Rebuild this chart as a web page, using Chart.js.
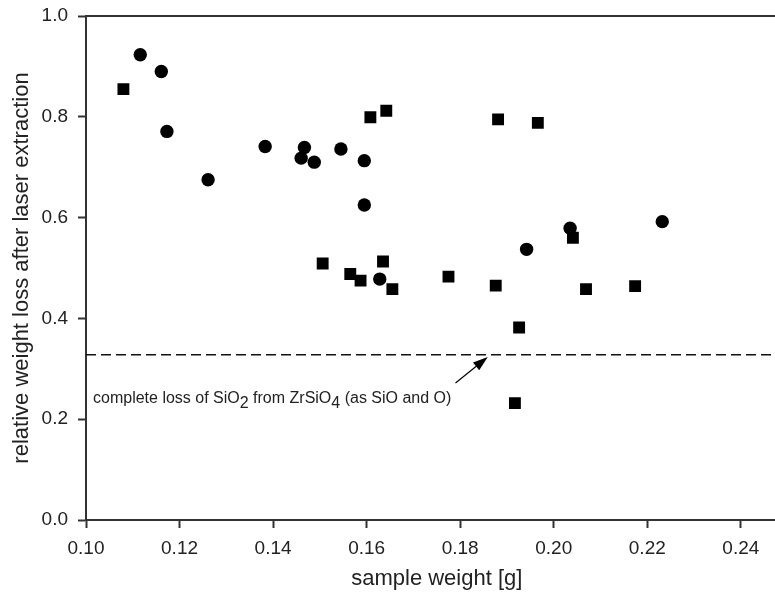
<!DOCTYPE html>
<html>
<head>
<meta charset="utf-8">
<script src="https://cdn.jsdelivr.net/npm/chart.js@4.4.1/dist/chart.umd.min.js"></script>
<style>
  html, body { margin: 0; padding: 0; background: #fff; overflow: hidden; }
  #wrap { width: 800px; height: 595px; }
  #chart { display: block; }
</style>
</head>
<body>
<div id="wrap"><canvas id="chart" width="796" height="595" style="width:796px;height:595px"></canvas></div>
<script>
// squares
const squareX = [0.1080, 0.1608, 0.1642, 0.1881, 0.1966, 0.1506, 0.1565, 0.1587, 0.1635, 0.1655,
                 0.1775, 0.1876, 0.2041, 0.2069, 0.2174, 0.1926, 0.1917];
const squareY = [0.855, 0.799, 0.812, 0.795, 0.788, 0.509, 0.488, 0.475, 0.513, 0.458,
                 0.483, 0.465, 0.560, 0.458, 0.464, 0.382, 0.232];
// circles
const circleX = [0.1116, 0.1161, 0.1173, 0.1261, 0.1383, 0.1467, 0.1460, 0.1488, 0.1545, 0.1595,
                 0.1595, 0.1628, 0.1942, 0.2035, 0.2232];
const circleY = [0.923, 0.890, 0.771, 0.675, 0.741, 0.739, 0.718, 0.710, 0.736, 0.713,
                 0.625, 0.478, 0.537, 0.579, 0.592];

const xTicks = [0.10, 0.12, 0.14, 0.16, 0.18, 0.20, 0.22, 0.24];
const yTicks = [0.0, 0.2, 0.4, 0.6, 0.8, 1.0];

// SiO2 share of ZrSiO4
const lossLevel = 0.328;
const lossLineX = [0.10, 0.25];

const noteParts = [['complete loss of SiO', false], ['2', true], [' from ZrSiO', false], ['4', true], [' (as SiO and O)', false]];
const notePos = { x: 0.1015, y: 0.233 };
const arrowFrom = { x: 0.1790, y: 0.272 };
const arrowTo = { x: 0.1859, y: 0.3235 };

const axisColor = '#333';
const textColor = '#222';
const fontFamily = '"Liberation Sans", Arial, sans-serif';

const toPoints = (xs, ys) => xs.map((x, i) => ({ x: x, y: ys[i] }));

// top and right side of the frame
const frameLines = {
  id: 'frameLines',
  afterDraw(chart) {
    const { ctx, chartArea: a } = chart;
    ctx.save();
    ctx.strokeStyle = axisColor;
    ctx.lineWidth = 2;
    ctx.beginPath();
    ctx.moveTo(a.left - 1, a.top);
    ctx.lineTo(a.right, a.top);
    ctx.lineTo(a.right, a.bottom);
    ctx.stroke();
    ctx.restore();
  }
};

// text + arrow for the dashed line
const lossNote = {
  id: 'lossNote',
  afterDraw(chart) {
    const { ctx } = chart;
    const xs = chart.scales.x, ys = chart.scales.y;
    ctx.save();
    ctx.fillStyle = textColor;
    ctx.font = '16px ' + fontFamily;
    ctx.textBaseline = 'alphabetic';
    let px = xs.getPixelForValue(notePos.x);
    const py = ys.getPixelForValue(notePos.y);
    noteParts.forEach(([txt, sub]) => {
      ctx.fillText(txt, px, sub ? py + 5 : py);
      px += ctx.measureText(txt).width;
    });

    const x0 = xs.getPixelForValue(arrowFrom.x), y0 = ys.getPixelForValue(arrowFrom.y);
    const x1 = xs.getPixelForValue(arrowTo.x), y1 = ys.getPixelForValue(arrowTo.y);
    const ang = Math.atan2(y1 - y0, x1 - x0);
    const len = 15, half = 5;
    ctx.strokeStyle = '#000';
    ctx.lineWidth = 1.2;
    ctx.beginPath();
    ctx.moveTo(x0, y0);
    ctx.lineTo(x1 - Math.cos(ang) * len * 0.8, y1 - Math.sin(ang) * len * 0.8);
    ctx.stroke();
    ctx.fillStyle = '#000';
    ctx.beginPath();
    ctx.moveTo(x1, y1);
    ctx.lineTo(x1 - Math.cos(ang) * len - Math.sin(ang) * half, y1 - Math.sin(ang) * len + Math.cos(ang) * half);
    ctx.lineTo(x1 - Math.cos(ang) * len + Math.sin(ang) * half, y1 - Math.sin(ang) * len - Math.cos(ang) * half);
    ctx.closePath();
    ctx.fill();
    ctx.restore();
  }
};

const ctx = document.getElementById('chart').getContext('2d');
new Chart(ctx, {
  type: 'scatter',
  data: {
    datasets: [
      {
        label: 'squares',
        data: toPoints(squareX, squareY),
        pointStyle: 'rect',
        pointRadius: 8.4,
        pointBorderWidth: 0,
        backgroundColor: '#000',
        borderColor: '#000',
        order: 1
      },
      {
        label: 'circles',
        data: toPoints(circleX, circleY),
        pointStyle: 'circle',
        pointRadius: 6.7,
        pointBorderWidth: 0,
        backgroundColor: '#000',
        borderColor: '#000',
        order: 1
      },
      {
        type: 'line',
        label: 'SiO2 loss',
        data: lossLineX.map(x => ({ x: x, y: lossLevel })),
        borderColor: '#111',
        borderWidth: 1.6,
        borderDash: [10, 5],
        pointRadius: 0,
        fill: false,
        order: 2
      }
    ]
  },
  options: {
    responsive: false,
    animation: false,
    events: [],
    devicePixelRatio: 1,
    layout: { padding: { top: 16, right: 0, left: 0, bottom: 0 } },
    plugins: {
      legend: { display: false },
      tooltip: { enabled: false }
    },
    scales: {
      x: {
        type: 'linear',
        min: 0.10,
        max: 0.25,
        afterBuildTicks: s => { s.ticks = xTicks.map(v => ({ value: v })); },
        afterFit: s => { s.height = 75; s.paddingLeft = 0; s.paddingRight = 0; },
        border: { display: true, color: axisColor, width: 2 },
        grid: { display: true, drawOnChartArea: false, drawTicks: true, tickLength: 8, tickWidth: 2, tickColor: axisColor },
        ticks: {
          padding: 9,
          color: textColor,
          font: { family: fontFamily, size: 19 },
          callback: v => v.toFixed(2)
        },
        title: {
          display: true,
          text: 'sample weight [g]',
          color: textColor,
          font: { family: fontFamily, size: 22 },
          padding: { top: 0, bottom: 3 }
        }
      },
      y: {
        type: 'linear',
        min: 0,
        max: 1,
        afterBuildTicks: s => { s.ticks = yTicks.map(v => ({ value: v })); },
        afterFit: s => { s.width = 86; s.paddingTop = 0; s.paddingBottom = 0; },
        border: { display: true, color: axisColor, width: 2 },
        grid: { display: true, drawOnChartArea: false, drawTicks: true, tickLength: 8, tickWidth: 2, tickColor: axisColor },
        ticks: {
          padding: 10,
          color: textColor,
          font: { family: fontFamily, size: 19 },
          callback: v => v.toFixed(1)
        },
        title: {
          display: true,
          text: 'relative weight loss after laser extraction',
          color: textColor,
          font: { family: fontFamily, size: 22 },
          padding: { top: 9, bottom: 0 }
        }
      }
    }
  },
  plugins: [frameLines, lossNote]
});
</script>
</body>
</html>
